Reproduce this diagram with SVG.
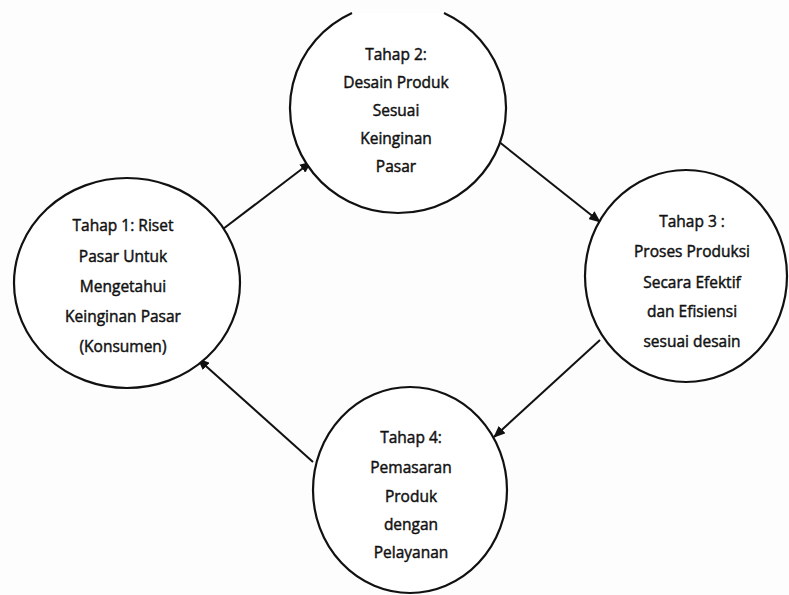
<svg xmlns="http://www.w3.org/2000/svg" width="789" height="595" viewBox="0 0 789 595">
<defs>
<style>
.node{fill:#fff;stroke:#111;stroke-width:2.2}
.lbl{font-family:"Open Sans","Liberation Sans",sans-serif;font-size:15.5px;fill:#111;stroke:#111;stroke-width:0.45;text-anchor:middle}
.edge{stroke:#111;stroke-width:2;fill:none}
</style>
<marker id="arr" markerWidth="12" markerHeight="10" refX="11" refY="5" orient="auto" markerUnits="userSpaceOnUse">
<path d="M0,0 L12,5 L0,10 Z" fill="#111"/>
</marker>
</defs>
<rect width="789" height="595" fill="#fdfdfd"/>
<g id="connectors">
<line class="edge" x1="223" y1="229" x2="311" y2="162" marker-end="url(#arr)"/>
<line class="edge" x1="493" y1="137" x2="600" y2="222" marker-end="url(#arr)"/>
<line class="edge" x1="600" y1="340" x2="494" y2="437" marker-end="url(#arr)"/>
<line class="edge" x1="313" y1="462" x2="198" y2="359" marker-end="url(#arr)"/>
</g>
<g id="node1">
<ellipse class="node" cx="127" cy="283" rx="113" ry="105"/>
<text class="lbl" x="123" y="231">Tahap 1: Riset</text>
<text class="lbl" x="123" y="262">Pasar Untuk</text>
<text class="lbl" x="123" y="292">Mengetahui</text>
<text class="lbl" x="123" y="322">Keinginan Pasar</text>
<text class="lbl" x="123" y="352">(Konsumen)</text>
</g>
<g id="node2">
<path class="node" d="M352,13 A108,105 0 1,0 444,13"/>
<text class="lbl" x="396" y="60">Tahap 2:</text>
<text class="lbl" x="396" y="88">Desain Produk</text>
<text class="lbl" x="396" y="116">Sesuai</text>
<text class="lbl" x="396" y="144">Keinginan</text>
<text class="lbl" x="396" y="172">Pasar</text>
</g>
<g id="node3">
<ellipse class="node" cx="686" cy="276" rx="101" ry="106"/>
<text class="lbl" x="692" y="227">Tahap 3 :</text>
<text class="lbl" x="692" y="257">Proses Produksi</text>
<text class="lbl" x="692" y="288">Secara Efektif</text>
<text class="lbl" x="692" y="317">dan Efisiensi</text>
<text class="lbl" x="692" y="347">sesuai desain</text>
</g>
<g id="node4">
<ellipse class="node" cx="410" cy="490" rx="97" ry="103"/>
<text class="lbl" x="411" y="443">Tahap 4:</text>
<text class="lbl" x="411" y="473">Pemasaran</text>
<text class="lbl" x="411" y="502">Produk</text>
<text class="lbl" x="411" y="530">dengan</text>
<text class="lbl" x="411" y="558">Pelayanan</text>
</g>
</svg>
